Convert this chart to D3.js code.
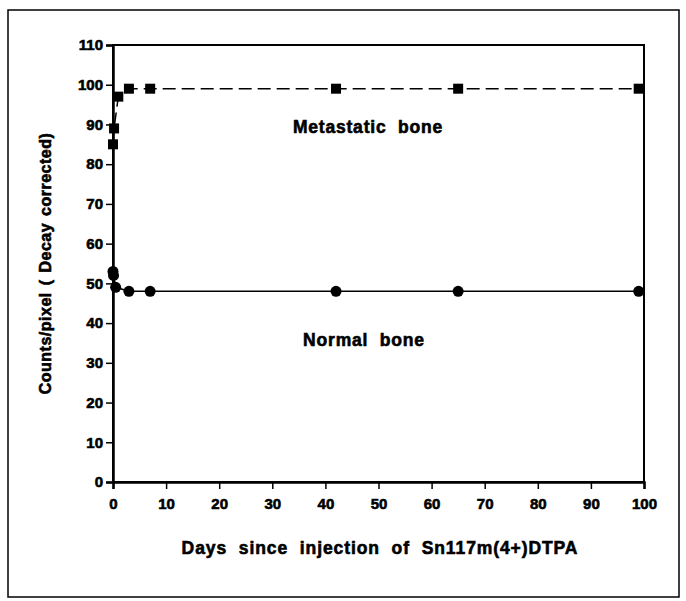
<!DOCTYPE html>
<html>
<head>
<meta charset="utf-8">
<script src="https://cdn.jsdelivr.net/npm/d3@7"></script>
<style>
  body { margin: 0; background: #fff; }
  svg text { font-family: "Liberation Sans", Arial, sans-serif; font-weight: bold; fill: #000; stroke: #000; stroke-width: 0.6; }
</style>
</head>
<body>
<main></main>
<script>
const metDays = [0, 0.2, 1, 3, 7, 42, 65, 99];
const metCounts = [85, 89, 97, 99, 99, 99, 99, 99];
const normDays = [0, 0.1, 0.5, 3, 7, 42, 65, 99];
const normCounts = [53, 52, 49, 48, 48, 48, 48, 48];
const xTicks = [0, 10, 20, 30, 40, 50, 60, 70, 80, 90, 100];
const yTicks = [0, 10, 20, 30, 40, 50, 60, 70, 80, 90, 100, 110];

const w = 686, h = 601;
const svg = d3.select('main').append('svg').attr('width', w).attr('height', h);

// outer frame
svg.append('rect')
    .attr('x', 8).attr('y', 10).attr('width', 671).attr('height', 587)
    .attr('fill', 'none').attr('stroke', '#000').attr('stroke-width', 1.5);

const x = d3.scaleLinear().domain([0, 100]).range([113, 644]);
const y = d3.scaleLinear().domain([0, 110]).range([482, 45]);

// plot box
svg.append('rect')
    .attr('x', x(0)).attr('y', y(110))
    .attr('width', x(100) - x(0)).attr('height', y(0) - y(110))
    .attr('fill', 'none').attr('stroke', '#000').attr('stroke-width', 2);

const xAxis = svg.append('g')
    .attr('transform', `translate(0,${y(0)})`)
    .call(d3.axisBottom(x).tickValues(xTicks).tickSize(7).tickPadding(9));
const yAxis = svg.append('g')
    .attr('transform', `translate(${x(0)},0)`)
    .call(d3.axisLeft(y).tickValues(yTicks).tickSize(7).tickPadding(3));

[xAxis, yAxis].forEach(a => {
    a.select('.domain').attr('stroke-width', 2.5);
    a.selectAll('.tick line').attr('stroke-width', 1.5);
    a.selectAll('.tick text')
        .attr('font-family', '"Liberation Sans", Arial, sans-serif')
        .attr('font-weight', 'bold')
        .attr('font-size', 15);
});

// metastatic bone
const metData = metDays.map((d, i) => [d, metCounts[i]]);
svg.append('path')
    .datum(metData)
    .attr('fill', 'none')
    .attr('stroke', '#000')
    .attr('stroke-width', 1.5)
    .attr('stroke-dasharray', '13,6')
    .attr('d', d3.line().x(d => x(d[0])).y(d => y(d[1])));
svg.selectAll('.sq')
    .data(metData)
    .enter()
    .append('rect')
    .attr('class', 'sq')
    .attr('x', d => x(d[0]) - 5)
    .attr('y', d => y(d[1]) - 5)
    .attr('width', 10)
    .attr('height', 10)
    .attr('fill', '#000');

// normal bone
const normData = normDays.map((d, i) => [d, normCounts[i]]);
svg.append('path')
    .datum(normData)
    .attr('fill', 'none')
    .attr('stroke', '#000')
    .attr('stroke-width', 1.5)
    .attr('d', d3.line().x(d => x(d[0])).y(d => y(d[1])));
svg.selectAll('.dot')
    .data(normData)
    .enter()
    .append('circle')
    .attr('class', 'dot')
    .attr('cx', d => x(d[0]))
    .attr('cy', d => y(d[1]))
    .attr('r', 5.5)
    .attr('fill', '#000');

svg.append('text')
    .attr('x', 368).attr('y', 133)
    .attr('text-anchor', 'middle')
    .attr('font-size', 17.5)
    .attr('letter-spacing', 0.8)
    .attr('word-spacing', 6)
    .text('Metastatic bone');
svg.append('text')
    .attr('x', 364).attr('y', 346)
    .attr('text-anchor', 'middle')
    .attr('font-size', 17.5)
    .attr('letter-spacing', 0.8)
    .attr('word-spacing', 6)
    .text('Normal bone');

svg.append('text')
    .attr('x', 380).attr('y', 554)
    .attr('text-anchor', 'middle')
    .attr('font-size', 17.5)
    .attr('letter-spacing', 0.9)
    .attr('word-spacing', 6)
    .text('Days since injection of Sn117m(4+)DTPA');
svg.append('text')
    .attr('transform', `translate(51,${(y(0) + y(110)) / 2}) rotate(-90)`)
    .attr('text-anchor', 'middle')
    .attr('font-size', 16)
    .attr('letter-spacing', 0.5)
    .attr('word-spacing', 2)
    .text('Counts/pixel ( Decay corrected)');
</script>
</body>
</html>
